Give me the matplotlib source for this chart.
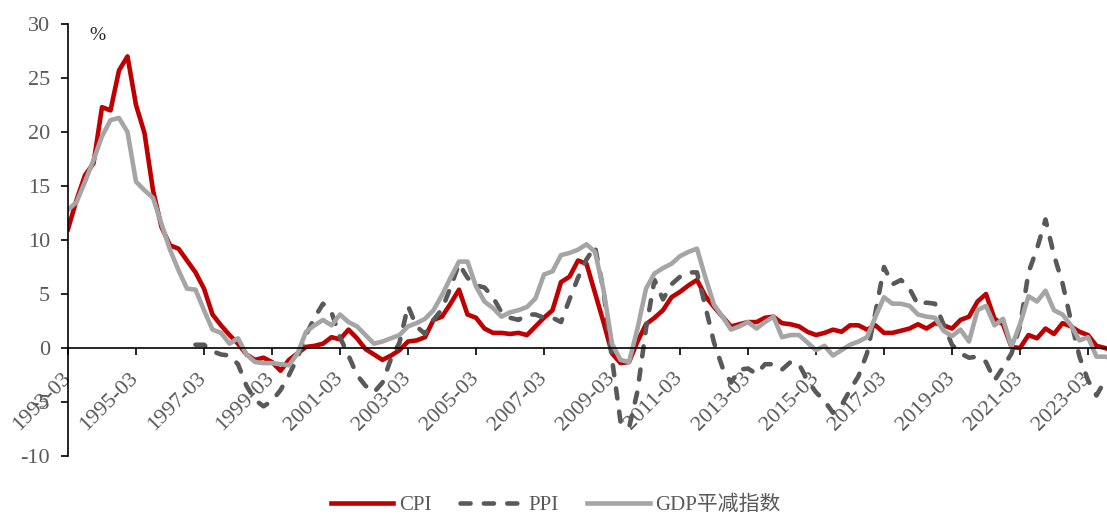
import matplotlib
matplotlib.use('Agg')
from matplotlib import pyplot
from matplotlib.transforms import ScaledTranslation
import numpy as np

pyplot.rcParams['font.family'] = ['Liberation Serif', 'Noto Sans CJK SC']
pyplot.rcParams['axes.unicode_minus'] = False

# quarterly y/y rates (%), first quarter 1993-03
cpi = [
    11.0, 13.7, 16.0, 17.1, 22.3, 22.0, 25.7, 27.0, 22.5, 19.9, 14.6, 11.2,
    9.5, 9.2, 8.1, 7.0, 5.5, 3.1, 2.1, 1.2, 0.4, -0.6, -1.1, -0.9,
    -1.3, -2.1, -1.1, -0.5, 0.1, 0.2, 0.4, 1.0, 0.8, 1.7, 0.9, -0.1,
    -0.6, -1.1, -0.7, -0.2, 0.6, 0.7, 1.0, 2.6, 2.9, 4.1, 5.4, 3.1,
    2.8, 1.8, 1.4, 1.4, 1.3, 1.4, 1.2, 2.0, 2.8, 3.5, 6.1, 6.6,
    8.1, 7.8, 5.1, 2.4, -0.5, -1.4, -1.3, 0.6, 2.2, 2.8, 3.5, 4.7,
    5.2, 5.8, 6.3, 4.8, 3.8, 2.9, 2.0, 2.2, 2.4, 2.4, 2.8, 2.9,
    2.3, 2.2, 2.0, 1.5, 1.2, 1.4, 1.7, 1.5, 2.1, 2.1, 1.7, 2.1,
    1.4, 1.4, 1.6, 1.8, 2.2, 1.8, 2.3, 2.1, 1.8, 2.6, 2.9, 4.3,
    5.0, 2.7, 2.2, 0.1, 0.0, 1.2, 0.9, 1.8, 1.3, 2.3, 2.0, 1.5,
    1.2, 0.2, 0.0, -0.3,
]

# PPI series begins in 1996-12
ppi_start = 15
ppi = [
    0.3, 0.3, -0.3, -0.6, -0.7, -1.5, -3.5, -4.8, -5.4, -4.9, -3.9, -2.5,
    -0.9, 1.2, 2.8, 4.1, 3.3, 1.0, -0.7, -2.5, -3.5, -4.1, -3.2, -1.0,
    0.5, 3.9, 2.0, 1.3, 2.6, 3.6, 5.6, 7.8, 6.5, 5.8, 5.6, 4.7,
    3.3, 2.8, 2.6, 3.1, 3.1, 2.8, 2.8, 2.4, 4.5, 6.5, 8.2, 9.4,
    5.3, -1.0, -6.8, -7.4, -4.0, 1.8, 6.3, 4.5, 5.9, 6.6, 7.0, 7.0,
    3.8, 0.5, -1.8, -3.2, -2.0, -1.9, -2.4, -1.5, -1.5, -2.0, -1.3, -1.5,
    -3.0, -4.1, -4.9, -6.0, -5.3, -3.9, -2.6, -0.5, 3.3, 7.5, 5.9, 6.3,
    5.5, 4.0, 4.2, 4.1, 2.2, 0.3, -0.5, -0.9, -0.8, -1.3, -3.0, -1.8,
    -0.5, 2.0, 7.0, 9.2, 11.9, 8.6, 6.0, 2.5, -0.8, -3.0, -4.4, -3.0,
    -2.8,
]

gdp_deflator = [
    12.8, 13.5, 15.4, 17.4, 19.6, 21.1, 21.3, 20.0, 15.4, 14.6, 13.9, 11.5,
    9.1, 7.2, 5.5, 5.4, 3.5, 1.7, 1.4, 0.4, 0.9, -0.6, -1.3, -1.4,
    -1.4, -1.5, -1.6, -0.5, 1.5, 2.1, 2.6, 2.1, 3.1, 2.4, 2.0, 1.2,
    0.4, 0.6, 0.9, 1.2, 2.0, 2.3, 2.7, 3.5, 4.9, 6.5, 8.0, 8.0,
    5.7, 4.3, 3.7, 2.9, 3.3, 3.5, 3.8, 4.6, 6.8, 7.1, 8.6, 8.8,
    9.1, 9.6, 8.9, 5.4, 0.4, -1.1, -1.3, 1.8, 5.5, 6.9, 7.4, 7.8,
    8.5, 8.9, 9.2, 6.5, 4.0, 2.9, 1.7, 2.0, 2.4, 1.8, 2.4, 2.9,
    1.0, 1.2, 1.2, 0.5, -0.2, 0.2, -0.7, -0.2, 0.3, 0.6, 1.0, 2.9,
    4.7, 4.1, 4.1, 3.9, 3.1, 2.9, 2.8, 1.6, 1.1, 1.7, 0.6, 3.5,
    3.9, 2.1, 2.7, 0.1, 2.2, 4.8, 4.3, 5.3, 3.5, 3.1, 2.1, 0.7,
    1.0, -0.8, -0.8, -1.0,
]

tick_labels = [
    '1993-03', '1995-03', '1997-03', '1999-03', '2001-03', '2003-03',
    '2005-03', '2007-03', '2009-03', '2011-03', '2013-03', '2015-03',
    '2017-03', '2019-03', '2021-03', '2023-03',
]

W, H = 1107, 517
fig = pyplot.figure(figsize=(W / 100, H / 100), dpi=100)
ax = fig.add_axes([68 / W, 1 - 456 / H, 1 - 68 / W, (456 - 24) / H])

q = np.arange(len(cpi))
q_ppi = np.arange(ppi_start, ppi_start + len(ppi))
ax.plot(q, cpi, color='#C00000', lw=3.3, label='CPI', solid_joinstyle='round')
ax.plot(q_ppi, ppi, color='#595959', lw=3.3, dashes=(2.2, 2.9),
        dash_capstyle='round', dash_joinstyle='round', label='PPI')
ax.plot(q, gdp_deflator, color='#A5A5A5', lw=3.3, label='GDP平减指数',
        solid_joinstyle='round')

# x axis sits on the zero line
for side in ['top', 'right']:
    ax.spines[side].set_visible(False)
ax.spines['bottom'].set_position(('data', 0))
for side in ['bottom', 'left']:
    ax.spines[side].set_linewidth(1.2)
    ax.spines[side].set_color('black')

ax.set_ylim(-10, 30)
ax.set_xlim(0, (W - 68) / 8.5)
ax.set_yticks(range(-10, 31, 5))
ax.set_xticks(range(0, 8 * len(tick_labels), 8))
ax.set_xticklabels(tick_labels, rotation=45, ha='right', rotation_mode='anchor')

ax.tick_params(axis='both', direction='out', length=5, width=1.2,
               colors='black', labelcolor='#595959', labelsize=16)
ax.tick_params(axis='y', pad=8)
ax.tick_params(axis='x', pad=10)

# date labels hang a little left of their ticks
shift = ScaledTranslation(-0.07, 0, fig.dpi_scale_trans)
for lbl in ax.get_xticklabels():
    lbl.set_transform(lbl.get_transform() + shift)

ax.text(3.5, 28.9, '%', ha='center', va='center', fontsize=14, color='#262626')

fig.legend(loc='center', bbox_to_anchor=(0.502, 0.022), ncol=3, frameon=False,
           fontsize=15, handlelength=3.0, handletextpad=0.25, columnspacing=1.4,
           labelcolor='#595959')

fig.savefig('out.png', dpi=100)
pyplot.close(fig)
